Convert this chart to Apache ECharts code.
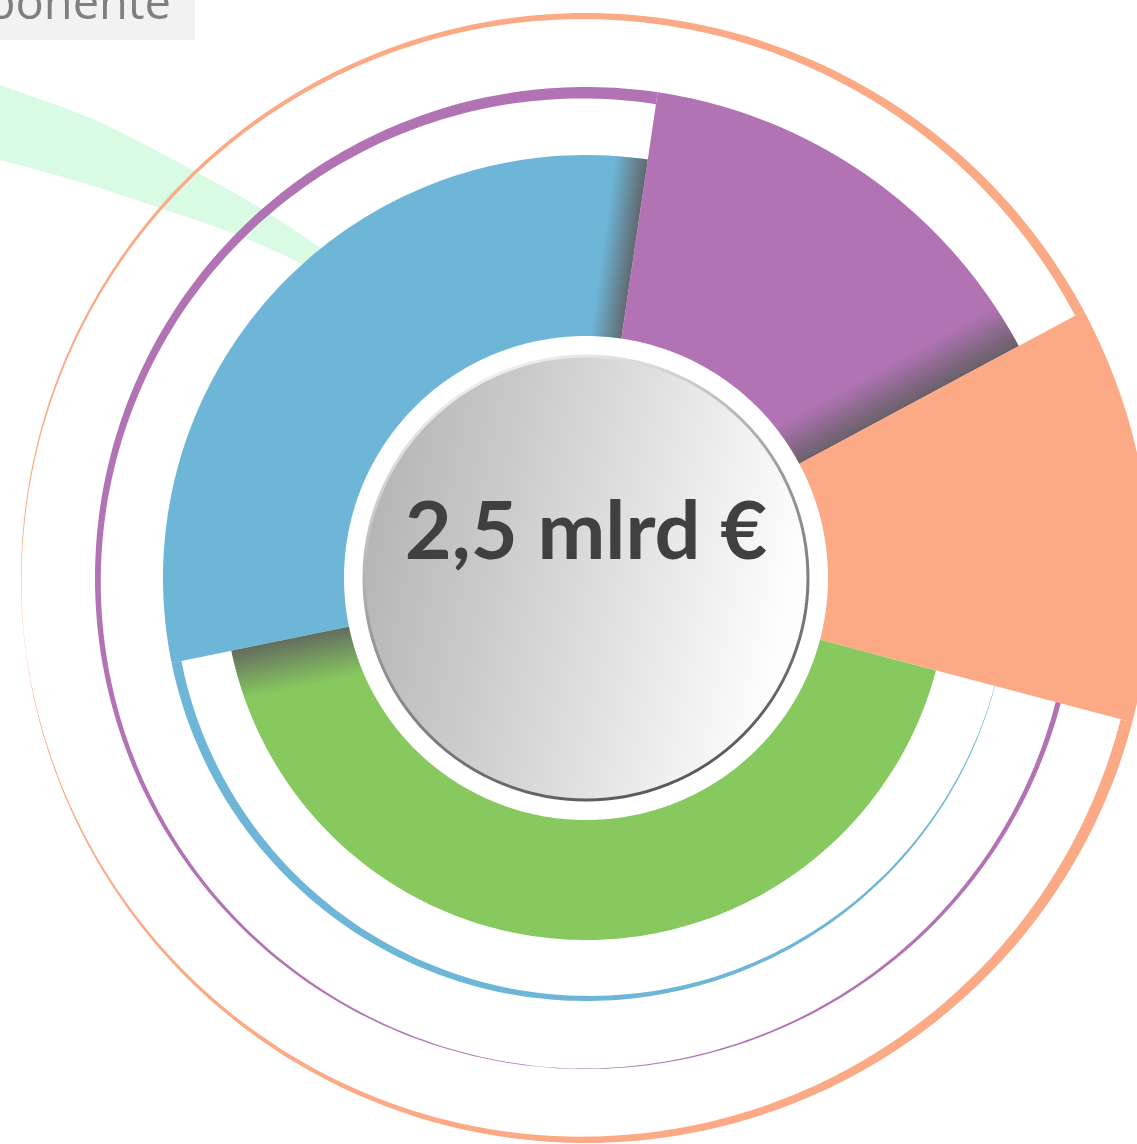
<!DOCTYPE html>
<html>
<head>
<meta charset="utf-8">
<title>Komponente</title>
<script src="https://cdn.jsdelivr.net/npm/echarts@6/dist/echarts.min.js"></script>
<style>
  html, body { margin: 0; padding: 0; background: #fff; }
  #chart { width: 1137px; height: 1144px; }
</style>
</head>
<body>
<div id="chart"></div>
<script>
// sectors, clockwise, angles in degrees (0 = top)
const categories = ['plava', 'ljubičasta', 'narančasta', 'zelena']
const colors = ['#6db6d7', '#b173b4', '#fbaa85', '#87c95e']
const firstStart = 258.4
const spans = [110.0, 53.4, 43.0, 153.6]
const outerRadius = [423, 491, 565, 362]
const innerRadius = 242
const shadowLength = [32, 45, 0, 50]

// tapering rings that leave each sector
const ringCcwWidth = [10, 12, 10, 0]
const ringCcwLength = [160, 190, 160, 0]
const ringCwWidth = [0, 8, 12, 0]
const ringCwLength = [0, 125, 160, 0]

const totalLabel = '2,5 mlrd €'
const titleText = 'Komponente'

// ============ data for the custom series ============

const sectorData = []
let acc = firstStart
spans.forEach((s, i) => {
  sectorData.push({ name: categories[i], value: [acc, acc + s, outerRadius[i], i] })
  acc += s
})

const chart = echarts.init(document.getElementById('chart'))

function renderSector(params, api) {
  const a0 = api.value(0)
  const a1 = api.value(1)
  const R = api.value(2)
  const i = api.value(3)
  const n = Math.max(2, Math.ceil(a1 - a0))
  const pts = []
  for (let k = 0; k <= n; k++) pts.push(api.coord([R, a0 + (a1 - a0) * k / n]).slice(0, 2))
  for (let k = n; k >= 0; k--) pts.push(api.coord([innerRadius, a0 + (a1 - a0) * k / n]).slice(0, 2))

  const children = [{ type: 'polygon', shape: { points: pts }, style: { fill: colors[i] } }]

  // dark shading along the clockwise edge
  if (shadowLength[i] > 0) {
    const rm = (R + innerRadius) / 2
    const p1 = api.coord([rm, a1])
    const p2 = api.coord([rm, a1 - 1])
    let dx = p2[0] - p1[0]
    let dy = p2[1] - p1[1]
    const len = Math.hypot(dx, dy)
    dx /= len
    dy /= len
    const L = shadowLength[i]
    children.push({
      type: 'polygon',
      shape: { points: pts },
      style: {
        fill: new echarts.graphic.LinearGradient(
          p1[0], p1[1], p1[0] + dx * L, p1[1] + dy * L,
          [
            { offset: 0, color: 'rgba(95,95,95,0.88)' },
            { offset: 1, color: 'rgba(95,95,95,0)' }
          ],
          true
        )
      }
    })
  }
  return { type: 'group', children }
}

function ringPolygon(api, R, from, dir, w0, D) {
  const outer = []
  const inner = []
  for (let d = 0; d <= D; d += 1) {
    const a = from + dir * d
    const w = Math.max(0, w0 * (1 - d / D))
    outer.push(api.coord([R, a]).slice(0, 2))
    inner.push(api.coord([R - w, a]).slice(0, 2))
  }
  return outer.concat(inner.reverse())
}

function renderRing(params, api) {
  const a0 = api.value(0)
  const a1 = api.value(1)
  const R = api.value(2)
  const i = api.value(3)
  const children = []
  if (ringCcwWidth[i] > 0) {
    children.push({
      type: 'polygon',
      shape: { points: ringPolygon(api, R, a0, -1, ringCcwWidth[i], ringCcwLength[i]) },
      style: { fill: colors[i] }
    })
  }
  if (ringCwWidth[i] > 0) {
    children.push({
      type: 'polygon',
      shape: { points: ringPolygon(api, R, a1, 1, ringCwWidth[i], ringCwLength[i]) },
      style: { fill: colors[i] }
    })
  }
  return { type: 'group', children }
}

const mintTop = [[-5, 83], [0, 85], [95, 120], [187, 167], [260, 208], [330, 255], [370, 290]]
const mintBottom = [[-5, 160], [0, 160], [80, 182], [157, 207], [240, 236], [300, 263], [370, 300]]

const option = {
  animation: false,
  backgroundColor: '#ffffff',
  polar: { center: [586, 578], radius: 600 },
  angleAxis: {
    type: 'value', min: 0, max: 360, startAngle: 90, clockwise: true, show: false,
    splitLine: { show: false }
  },
  radiusAxis: { type: 'value', min: 0, max: 600, show: false, splitLine: { show: false } },
  graphic: [
    {
      type: 'polygon',
      z: 0,
      shape: { points: mintTop.concat(mintBottom.slice().reverse()), smooth: 0.3 },
      style: { fill: '#d9fbe4' }
    },
    {
      type: 'rect',
      z: 10,
      shape: { x: 0, y: 0, width: 195, height: 40 },
      style: { fill: '#f2f2f2' }
    },
    {
      type: 'text',
      z: 11,
      x: 171,
      y: 29,
      style: {
        text: titleText,
        font: '47px "Open Sans"',
        fill: '#7f7f7f',
        align: 'right',
        verticalAlign: 'bottom'
      }
    }
  ],
  series: [
    {
      type: 'custom',
      coordinateSystem: 'polar',
      z: 1,
      silent: true,
      renderItem: renderRing,
      data: sectorData
    },
    {
      type: 'custom',
      coordinateSystem: 'polar',
      z: 3,
      silent: true,
      renderItem: renderSector,
      data: sectorData
    },
    {
      type: 'pie',
      z: 4,
      silent: true,
      center: [586, 578],
      radius: [0, 222],
      labelLine: { show: false },
      itemStyle: {
        color: new echarts.graphic.LinearGradient(0, 0.1, 1, 0.3, [
          { offset: 0, color: '#b0b0b0' },
          { offset: 1, color: '#fdfdfd' }
        ]),
        borderColor: new echarts.graphic.LinearGradient(0.3, 0, 0.7, 1, [
          { offset: 0, color: '#f4f4f4' },
          { offset: 0.45, color: '#9a9a9a' },
          { offset: 1, color: '#555555' }
        ]),
        borderWidth: 3
      },
      label: {
        show: true,
        position: 'center',
        formatter: totalLabel,
        fontFamily: 'Lato',
        fontWeight: 'bold',
        fontSize: 81,
        color: '#404040',
        offset: [0, -45]
      },
      data: [{ value: 1, name: totalLabel }]
    }
  ]
}

chart.setOption(option)
</script>
</body>
</html>
